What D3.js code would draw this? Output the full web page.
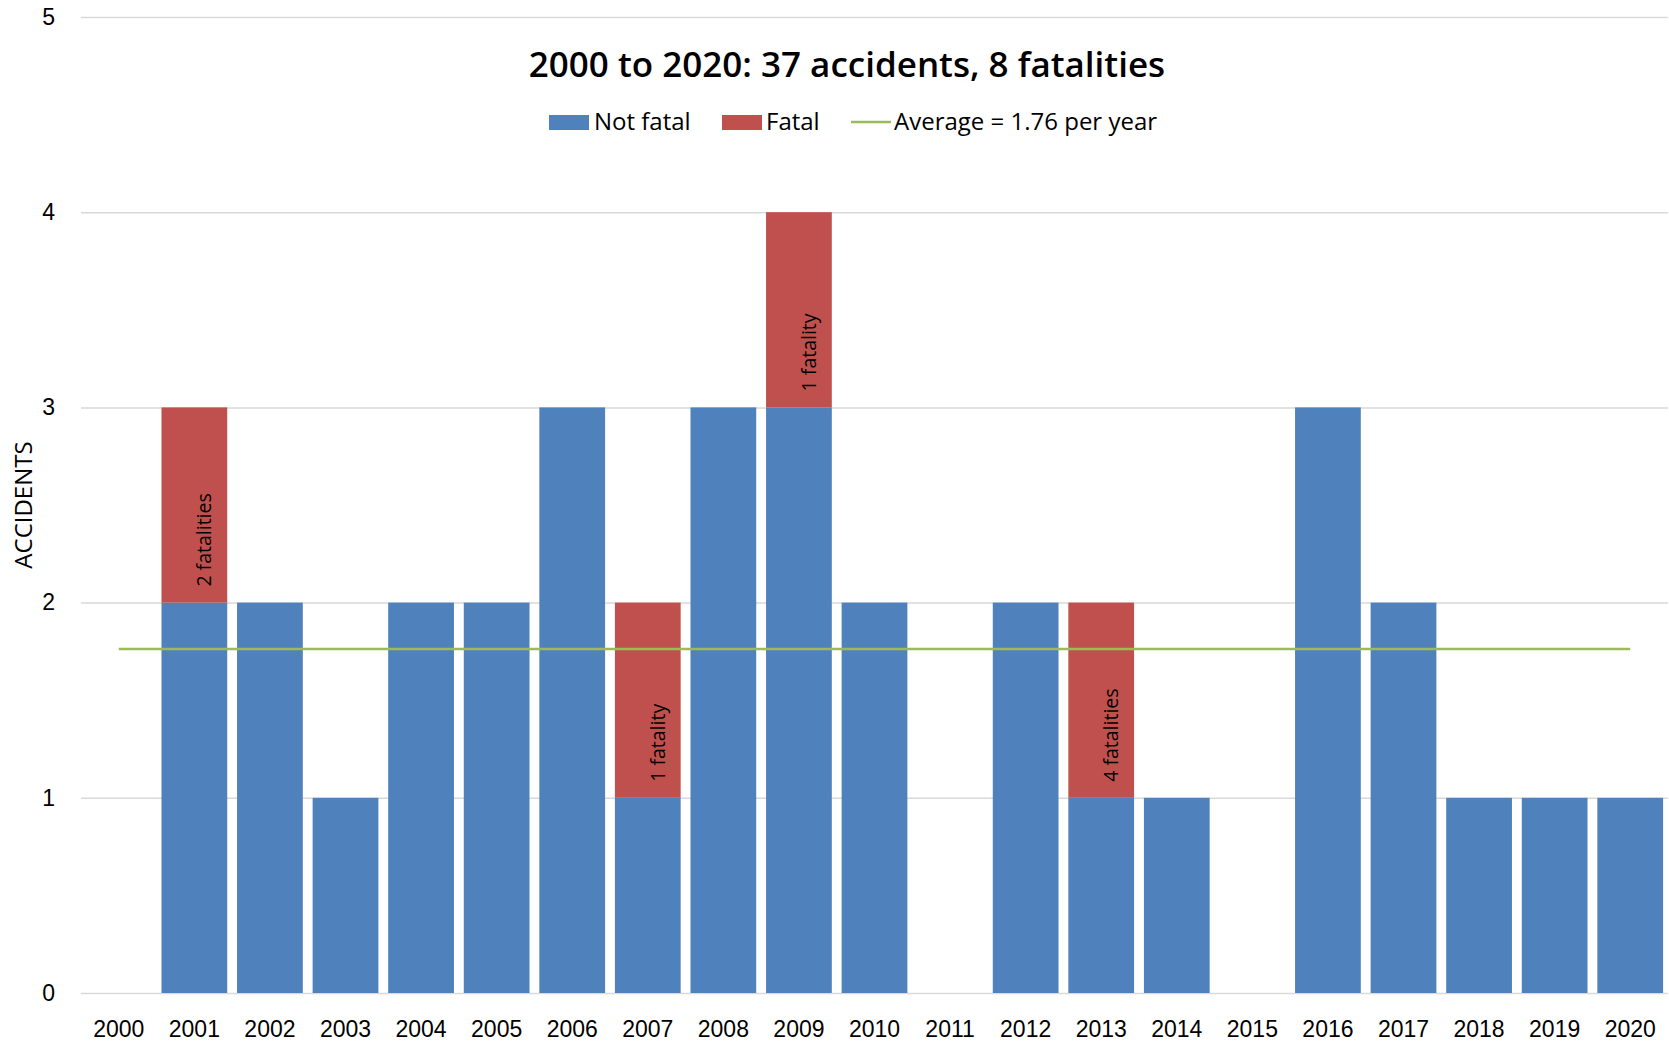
<!DOCTYPE html>
<html>
<head>
<meta charset="utf-8">
<script src="https://cdn.jsdelivr.net/npm/d3@7.9.0/dist/d3.min.js"></script>
<style>
  html, body { margin: 0; padding: 0; background: #fff; }
  svg { display: block; font-family: "Segoe UI", "Open Sans", sans-serif; }
  .grid line { stroke: #d9d9d9; stroke-width: 1.5; }
  .grid .domain { display: none; }
  .grid text, .xaxis text { fill: #000; font-size: 23px; }
  .xaxis .domain { display: none; }
</style>
</head>
<body>
<svg width="1669" height="1043"></svg>
<script>
// data
const years = ['2000','2001','2002','2003','2004','2005','2006','2007','2008','2009','2010',
               '2011','2012','2013','2014','2015','2016','2017','2018','2019','2020'];
const notFatal = [0, 2, 2, 1, 2, 2, 3, 1, 3, 3, 2, 0, 2, 1, 1, 0, 3, 2, 1, 1, 1];
const fatal    = [0, 1, 0, 0, 0, 0, 0, 1, 0, 1, 0, 0, 0, 1, 0, 0, 0, 0, 0, 0, 0];
const fatalNotes = [
  { year: '2001', text: '2 fatalities' },
  { year: '2007', text: '1 fatality' },
  { year: '2009', text: '1 fatality' },
  { year: '2013', text: '4 fatalities' }
];
const yTicks = [0, 1, 2, 3, 4, 5];

const colors = { notFatal: '#4f81bd', fatal: '#c0504d', avg: '#9bbb59' };

const totals = years.map((_, i) => notFatal[i] + fatal[i]);
const average = d3.sum(totals) / years.length;
const totalFatalities = 8;

const svg = d3.select('svg');
const m = { left: 81, right: 1668, top: 17, bottom: 993 };

const x = d3.scaleBand().domain(years).range([m.left, m.right])
  .paddingInner(0.13).paddingOuter(0.065);
const y = d3.scaleLinear().domain([0, 5]).range([m.bottom, m.top]);

// gridlines + y tick labels
svg.append('g')
  .attr('class', 'grid')
  .attr('transform', `translate(${m.left},0)`)
  .call(d3.axisLeft(y).tickValues(yTicks).tickFormat(d3.format('d'))
    .tickSize(-(m.right - m.left)).tickPadding(26));

// stacked bars
const stacked = d3.stack().keys(['notFatal', 'fatal'])(
  years.map((yr, i) => ({ year: yr, notFatal: notFatal[i], fatal: fatal[i] }))
);

svg.append('g').selectAll('g')
  .data(stacked)
  .join('g')
  .attr('fill', d => colors[d.key])
  .selectAll('rect')
  .data(d => d.filter(s => s[1] > s[0]))
  .join('rect')
  .attr('x', d => x(d.data.year))
  .attr('width', x.bandwidth())
  .attr('y', d => y(d[1]))
  .attr('height', d => y(d[0]) - y(d[1]));

// fatality labels, rotated
svg.append('g').selectAll('text')
  .data(fatalNotes)
  .join('text')
  .attr('transform', d => {
    const i = years.indexOf(d.year);
    const cx = x(d.year) + x.bandwidth() / 2 + 17;
    const cy = y(notFatal[i]) - 16;
    return `translate(${cx},${cy}) rotate(-90)`;
  })
  .attr('font-size', 19.5)
  .attr('fill', '#000')
  .text(d => d.text);

// average line
svg.append('line')
  .attr('x1', x(years[0]) + x.bandwidth() / 2)
  .attr('x2', x(years[years.length - 1]) + x.bandwidth() / 2)
  .attr('y1', y(average))
  .attr('y2', y(average))
  .attr('stroke', colors.avg)
  .attr('stroke-width', 2.5);

// x axis labels
svg.append('g')
  .attr('class', 'xaxis')
  .attr('transform', `translate(0,${m.bottom})`)
  .call(d3.axisBottom(x).tickSize(0).tickPadding(28));

// y axis title
svg.append('text')
  .attr('transform', `translate(32,${(m.top + m.bottom) / 2}) rotate(-90)`)
  .attr('text-anchor', 'middle')
  .attr('font-size', 24)
  .text('ACCIDENTS');

// title
svg.append('text')
  .attr('x', 847)
  .attr('y', 77)
  .attr('text-anchor', 'middle')
  .attr('font-size', 35)
  .attr('font-weight', 600)
  .text(`${years[0]} to ${years[years.length - 1]}: ${d3.sum(totals)} accidents, ${totalFatalities} fatalities`);

// legend
const legend = svg.append('g').attr('font-size', 24);
legend.append('rect').attr('x', 549).attr('y', 115).attr('width', 40).attr('height', 15).attr('fill', colors.notFatal);
legend.append('text').attr('x', 594).attr('y', 122).attr('dy', '0.35em').text('Not fatal');
legend.append('rect').attr('x', 722).attr('y', 115).attr('width', 40).attr('height', 15).attr('fill', colors.fatal);
legend.append('text').attr('x', 766).attr('y', 122).attr('dy', '0.35em').text('Fatal');
legend.append('line').attr('x1', 851).attr('x2', 891).attr('y1', 122).attr('y2', 122)
  .attr('stroke', colors.avg).attr('stroke-width', 2.5);
legend.append('text').attr('x', 894).attr('y', 122).attr('dy', '0.35em')
  .text(`Average = ${average.toFixed(2)} per year`);
</script>
</body>
</html>
